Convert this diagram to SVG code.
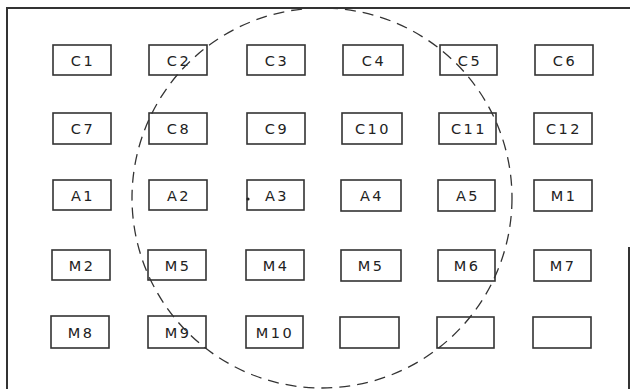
<svg xmlns="http://www.w3.org/2000/svg" width="630" height="389" viewBox="0 0 630 389">
<style>
.box{fill:#fff;stroke:#333;stroke-width:1.6}
.lbl{font-family:"DejaVu Sans",sans-serif;font-size:14.5px;fill:#222;text-anchor:middle;letter-spacing:2.5px}
.frame{fill:none;stroke:#333;stroke-width:2}
.circ{fill:none;stroke:#333;stroke-width:1.3;stroke-dasharray:11 7}
</style>
<rect width="630" height="389" fill="#fff"/>
<g id="frame">
<polyline class="frame" points="7,389 7,8 630,8"/>
<line class="frame" x1="629" y1="247" x2="629" y2="389" stroke-width="1.5"/>
</g>
<g id="C1"><rect class="box" x="53" y="45" width="58" height="30"/><text class="lbl" x="83" y="66">C1</text></g>
<g id="C2"><rect class="box" x="149" y="45" width="58" height="30"/><text class="lbl" x="179" y="66">C2</text></g>
<g id="C3"><rect class="box" x="247" y="45" width="58" height="30"/><text class="lbl" x="277" y="66">C3</text></g>
<g id="C4"><rect class="box" x="343" y="45" width="60" height="30"/><text class="lbl" x="374" y="66">C4</text></g>
<g id="C5"><rect class="box" x="440" y="45" width="57" height="30"/><text class="lbl" x="470" y="66">C5</text></g>
<g id="C6"><rect class="box" x="535" y="45" width="58" height="30"/><text class="lbl" x="565" y="66">C6</text></g>
<g id="C7"><rect class="box" x="53" y="113" width="58" height="31"/><text class="lbl" x="83" y="134">C7</text></g>
<g id="C8"><rect class="box" x="149" y="113" width="58" height="31"/><text class="lbl" x="179" y="134">C8</text></g>
<g id="C9"><rect class="box" x="247" y="113" width="58" height="31"/><text class="lbl" x="277" y="134">C9</text></g>
<g id="C10"><rect class="box" x="342" y="113" width="60" height="31"/><text class="lbl" x="373" y="134">C10</text></g>
<g id="C11"><rect class="box" x="439" y="113" width="57" height="31"/><text class="lbl" x="469" y="134">C11</text></g>
<g id="C12"><rect class="box" x="534" y="113" width="58" height="31"/><text class="lbl" x="564" y="134">C12</text></g>
<g id="A1"><rect class="box" x="53" y="180" width="58" height="30"/><text class="lbl" x="83" y="201">A1</text></g>
<g id="A2"><rect class="box" x="149" y="180" width="58" height="30"/><text class="lbl" x="179" y="201">A2</text></g>
<g id="A3"><rect class="box" x="247" y="180" width="57" height="30"/><text class="lbl" x="277" y="201">A3</text><circle cx="248" cy="199" r="1.6" fill="#222"/></g>
<g id="A4"><rect class="box" x="341" y="180" width="60" height="31"/><text class="lbl" x="372" y="201">A4</text></g>
<g id="A5"><rect class="box" x="438" y="180" width="57" height="31"/><text class="lbl" x="468" y="201">A5</text></g>
<g id="M1"><rect class="box" x="534" y="180" width="58" height="31"/><text class="lbl" x="564" y="201">M1</text></g>
<g id="M2"><rect class="box" x="52" y="250" width="58" height="30"/><text class="lbl" x="82" y="271">M2</text></g>
<g id="M5a"><rect class="box" x="148" y="250" width="58" height="30"/><text class="lbl" x="178" y="271">M5</text></g>
<g id="M4"><rect class="box" x="246" y="250" width="58" height="30"/><text class="lbl" x="276" y="271">M4</text></g>
<g id="M5b"><rect class="box" x="341" y="250" width="60" height="31"/><text class="lbl" x="371" y="271">M5</text></g>
<g id="M6"><rect class="box" x="438" y="250" width="57" height="31"/><text class="lbl" x="467" y="271">M6</text></g>
<g id="M7"><rect class="box" x="534" y="250" width="57" height="31"/><text class="lbl" x="563" y="271">M7</text></g>
<g id="M8"><rect class="box" x="51" y="316" width="58" height="32"/><text class="lbl" x="81" y="338">M8</text></g>
<g id="M9"><rect class="box" x="148" y="316" width="58" height="32"/><text class="lbl" x="178" y="338">M9</text></g>
<g id="M10"><rect class="box" x="246" y="316" width="57" height="32"/><text class="lbl" x="275" y="338">M10</text></g>
<g id="E1"><rect class="box" x="340" y="317" width="59" height="31"/></g>
<g id="E2"><rect class="box" x="437" y="317" width="57" height="31"/></g>
<g id="E3"><rect class="box" x="533" y="317" width="58" height="31"/></g>
<g id="connectors">
<circle class="circ" cx="322" cy="198" r="190"/>
</g>
</svg>
